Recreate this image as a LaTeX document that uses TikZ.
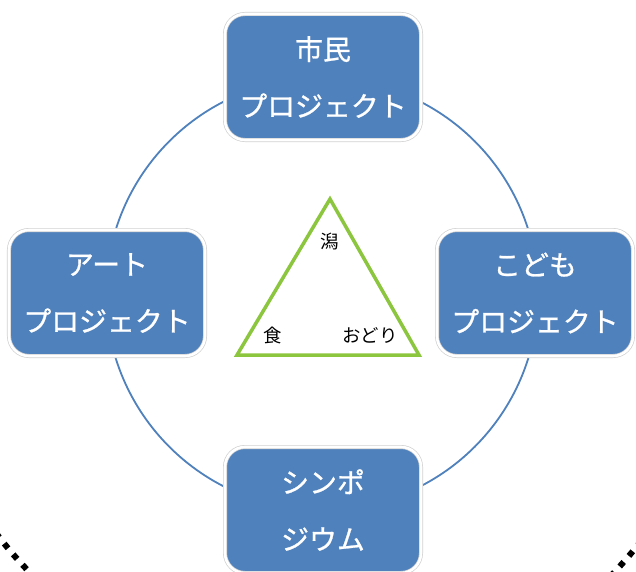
\documentclass[tikz,border=0pt]{standalone}
\usepackage{fontspec}
\newfontfamily\jpfont{Noto Sans CJK JP}
\newfontfamily\jpboxfont[FakeBold=0.9]{Noto Sans CJK JP}
\definecolor{boxblue}{RGB}{79,129,189}
\definecolor{ringblue}{RGB}{79,129,189}
\definecolor{trigreen}{RGB}{140,198,63}
\tikzset{
  projbox/.style={rounded corners=20bp, fill=boxblue, draw=black!18, line width=0.7bp,
    double=white, double distance=2.6bp, minimum width=196bp, minimum height=126bp,
    text=white, align=center, font=\jpboxfont\fontsize{28}{57}\selectfont},
  trilabel/.style={font=\jpfont\fontsize{18.5}{20}\selectfont, text=black}
}
\begin{document}
\begin{tikzpicture}[x=1bp,y=-1bp]
    \useasboundingbox (0,0) rectangle (636,572);
    \fill[white] (0,0) rectangle (636,572);

    % outer dotted ring, bottom corners only
    \begin{scope}
      \clip (0,0) rectangle (636,572);
      \draw[line width=6bp, dash pattern=on 6bp off 8bp]
        (320,290) ++(195:405bp) arc[start angle=195, end angle=250, radius=405bp];
      \draw[line width=6bp, dash pattern=on 6bp off 8bp]
        (320,294) ++(-70:405bp) arc[start angle=-70, end angle=-15, radius=405bp];
    \end{scope}

    % ring behind the boxes
    \node[circle, draw=ringblue, line width=1.8bp, minimum size=432bp, inner sep=0] (ring) at (322,294) {};

    \node[projbox] (shimin) at (323,77) {市民\\プロジェクト};
    \node[projbox] (art) at (107,293) {アート\\プロジェクト};
    \node[projbox] (kodomo) at (535,293) {こども\\プロジェクト};
    \node[projbox] (sympo) at (323,510) {シンポ\\ジウム};

    % triangle
    \coordinate (apex) at (330,199);
    \coordinate (baseL) at (237,355);
    \coordinate (baseR) at (419,355);
    \draw[trigreen, line width=3.5bp, line join=miter] (apex) -- (baseL) -- (baseR) -- cycle;

    \node[trilabel] (gata) at (330,242) {潟};
    \node[trilabel] (shoku) at (273,335) {食};
    \node[trilabel] (odori) at (370,335) {おどり};
\end{tikzpicture}
\end{document}
